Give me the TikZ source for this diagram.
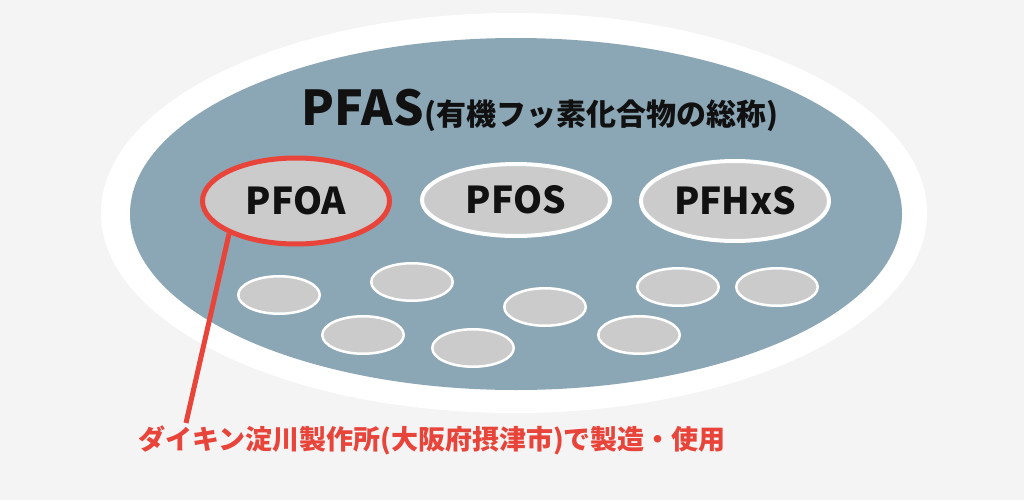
\documentclass[tikz,border=0pt]{standalone}
\usepackage{fontspec}
\setmainfont{Noto Sans CJK JP}
\usetikzlibrary{shapes.geometric}
\definecolor{bgc}{HTML}{F4F4F4}
\definecolor{bluec}{HTML}{8BA7B5}
\definecolor{grayf}{HTML}{CBCBCC}
\definecolor{redc}{HTML}{E8443A}
\definecolor{inkc}{HTML}{111111}
\begin{document}
\begin{tikzpicture}[x=1pt,y=-1pt,
  big/.style={ellipse, inner sep=0pt},
  blob/.style={ellipse, fill=grayf, draw=white, line width=2.5pt, inner sep=0pt,
    minimum width=81.5pt, minimum height=37.5pt},
  chem/.style={ellipse, fill=grayf, draw=white, line width=4pt, inner sep=0pt,
    text=inkc, font=\bfseries\fontsize{37}{40}\selectfont, minimum width=188pt},
  redline/.style={draw=redc, line width=5pt},
]
\useasboundingbox[fill=bgc] (0,0) rectangle (1024,500);
\node[big, fill=white, minimum width=826pt, minimum height=400pt] (ring) at (514,213) {};
\node[big, fill=bluec, minimum width=772pt, minimum height=352pt] (pfas) at (516,214) {};

\node[anchor=base, text=inkc, font=\bfseries] (title) at (540,125)
  {\fontsize{48}{50}\selectfont PFAS\fontsize{30}{32}\selectfont(有機フッ素化合物の総称)};

\node[chem, draw=redc, line width=5pt, minimum width=187pt, minimum height=86pt] (pfoa) at (296,201) {PFOA};
\node[chem, minimum height=72pt] (pfos) at (516,200) {PFOS};
\node[chem, minimum height=80pt] (pfhxs) at (735,201) {PFHxS};

\node[blob] (s1) at (279,295) {};
\node[blob] (s2) at (412,282) {};
\node[blob] (s3) at (363,335) {};
\node[blob] (s4) at (473,348) {};
\node[blob] (s5) at (545,307) {};
\node[blob] (s6) at (639,335) {};
\node[blob] (s7) at (678,287) {};
\node[blob] (s8) at (777,287) {};

\coordinate (lineend) at (186,423);
\draw[redline] (pfoa.206) -- (lineend);

\node[text=redc, font=\bfseries\fontsize{27}{30}\selectfont] (note) at (432,440)
  {ダイキン淀川製作所(大阪府摂津市)で製造・使用};
\end{tikzpicture}
\end{document}
